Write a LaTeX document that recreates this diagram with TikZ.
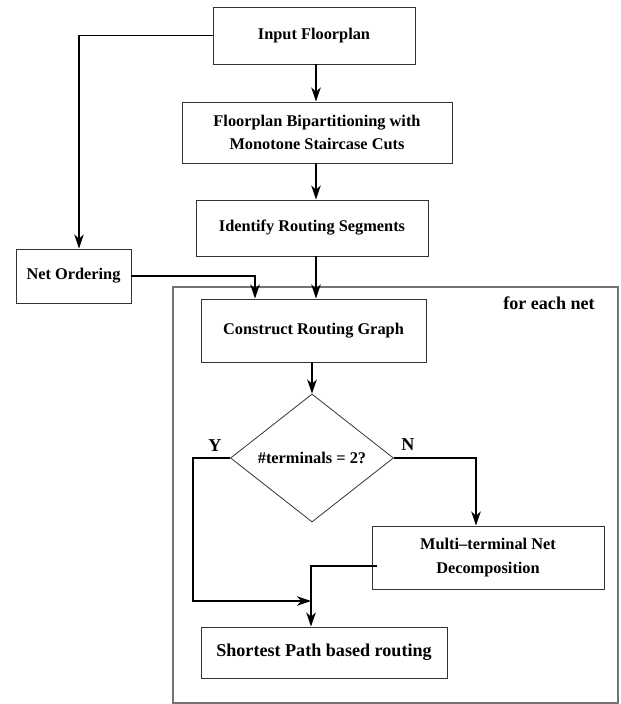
\documentclass[tikz,border=0pt]{standalone}
\usepackage{fontspec}
\setmainfont{Liberation Serif}
\usepackage{tikz}
\usetikzlibrary{arrows.meta,shapes.geometric,positioning,calc}

\begin{document}
\begin{tikzpicture}[x=0.2mm,y=-0.2mm,
font=\fontsize{9.3}{13.4}\selectfont\bfseries,
>={Stealth[length=8pt,width=5.4pt,inset=2.4pt]},
stepbox/.style={rectangle,draw=black!80,line width=0.55pt,inner sep=0pt,align=center},
decbox/.style={diamond,draw=black!80,line width=0.45pt,inner sep=0pt,align=center},
flow/.style={->,line width=1pt},
bigtxt/.style={font=\fontsize{10.3}{12}\selectfont\bfseries}]
\useasboundingbox (0,0) rectangle (620,704);

% loop frame
\draw[black!55,line width=0.8pt] (173,287) rectangle (618,703);
\node (loop) at (549,303) [bigtxt] {for each net};

\node (inp) at (314,35.5) [stepbox,minimum width=40.4mm,minimum height=11.4mm] {Input Floorplan};
\node (bip) at (317,132.5) [stepbox,minimum width=54mm,minimum height=12.2mm] {Floorplan Bipartitioning with\\Monotone Staircase Cuts};
\node (seg) at (312,228) [stepbox,minimum width=46.4mm,minimum height=11.2mm] {Identify Routing Segments};
\node (ord) at (73.5,276) [stepbox,minimum width=23mm,minimum height=10.8mm] {Net Ordering};
\node (cons) at (313.5,330.5) [stepbox,minimum width=45mm,minimum height=12.6mm] {Construct Routing Graph};
\node (dec) at (312,458) [decbox,minimum width=32.6mm,minimum height=25.6mm] {\#terminals = 2?};
\node (multi) at (488,557.5) [stepbox,minimum width=46.4mm,minimum height=12.6mm] {Multi--terminal Net\\Decomposition};
\node (sp) at (324,652.5) [stepbox,bigtxt,minimum width=49.2mm,minimum height=10.2mm] {Shortest Path based routing};

\node (ylab) at (215,446) [bigtxt] {Y};
\node (nlab) at (408,445) [bigtxt] {N};

\coordinate (trunk) at (316,0);
\coordinate (branch) at (79,0);
\coordinate (ordin) at (255,0);
\coordinate (ybend) at (193,0);
\coordinate (yjoin) at (311,601);
\coordinate (nbend) at (476,0);
\coordinate (mout) at (377,566);

\draw[flow] (inp.south -| trunk) -- (bip.north -| trunk);
\draw[flow] (bip.south -| trunk) -- (seg.north -| trunk);
\draw[flow] (seg.south -| trunk) -- (cons.north -| trunk);
\draw[flow] (inp.west) -| (ord.north -| branch);
\draw[flow] (ord.east) -| (cons.north -| ordin);
\draw[flow] (cons.south -| dec.north) -- (dec.north);
\draw[flow] (dec.west) -| (ybend |- yjoin) -- (yjoin);
\draw[flow] (dec.east) -| (multi.north -| nbend);
\draw[flow] (mout) -| (sp.north -| yjoin);

\end{tikzpicture}
\end{document}
